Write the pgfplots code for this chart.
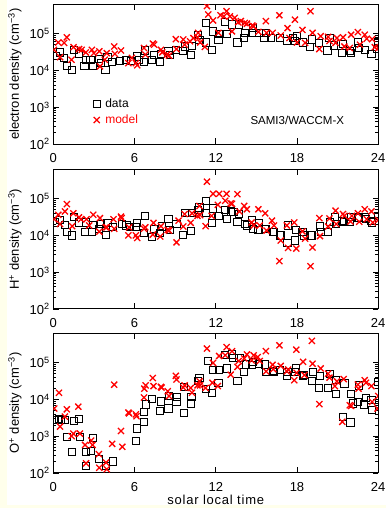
\documentclass[border=0pt]{standalone}
\usepackage{fontspec}
\setmainfont{Liberation Sans}
\newfontfamily\lsfont[LetterSpace=6]{Liberation Sans}
\usepackage{pgfplots}
\pgfplotsset{compat=1.18}
\usetikzlibrary{backgrounds}
\definecolor{mred}{RGB}{255,0,0}
\definecolor{cream}{RGB}{255,255,235}
\begin{document}
\begin{tikzpicture}
% ---------------- Panel 1: electron density
\begin{axis}[
    at={(53.3pt,364pt)}, anchor=south west,
    scale only axis, width=325pt, height=139.5pt,
    xmin=0, xmax=24, ymode=log, ymin=100, ymax=6.2e5,
    xtick={0,6,12,18,24}, xticklabels={0,6,12,18,24},
    ytick={100,1000,10000,100000},
    yticklabels={10\textsuperscript{2},10\textsuperscript{3},10\textsuperscript{4},10\textsuperscript{5}},
    minor x tick num=0,
    tick align=inside, major tick length=5.5pt, minor tick length=3pt,
    xtick pos=both, ytick pos=both,
    tick style={line width=0.8pt, black},
    axis line style={line width=0.9pt, black},
    tick label style={font=\fontsize{13}{15}\selectfont},
    xticklabel style={yshift=-5.5pt},
    clip marker paths=true,
    ylabel style={at={(axis description cs:-0.118,0.5)}, anchor=center, font=\fontsize{13}{15}\selectfont},
    ylabel={electron density (cm\textsuperscript{−3})},
    legend cell align=left,
    legend style={draw=none, fill=none, at={(axis description cs:0.122,0.34)}, anchor=north west,
      font=\fontsize{12}{14}\selectfont, row sep=2pt, column sep=3pt, inner sep=0pt},
]
\addplot[only marks, mark=square, mark size=3.6pt, mark options={line width=0.9pt, draw=black}] table {
0.2 2.51e4
0.5 3.09e4
0.8 2.14e4
1.0 1.29e4
1.4 1.05e4
1.5 3.55e4
1.9 2.82e4
2.3 1.29e4
2.4 1.95e4
2.75 1.95e4
2.9 1.29e4
3.35 2.09e4
3.5 1.58e4
3.85 1.05e4
4.0 2.29e4
4.35 1.66e4
4.95 1.78e4
5.35 1.95e4
5.75 1.82e4
6.15 2.40e4
6.3 1.95e4
6.7 1.66e4
6.75 3.47e4
7.3 1.95e4
7.45 2.69e4
7.9 1.70e4
7.95 2.82e4
8.5 3.31e4
8.6 2.69e4
9.05 3.55e4
9.6 3.31e4
9.7 4.47e4
10.15 2.57e4
10.25 4.68e4
10.7 9.33e4
10.8 6.61e4
11.25 5.75e4
11.3 1.95e5
11.7 3.63e4
11.8 1.15e5
12.2 6.61e4
12.25 9.77e4
12.7 2.09e5
12.8 9.77e4
13.2 1.78e5
13.6 5.75e4
13.7 1.78e5
14.1 7.59e4
14.2 1.05e5
14.65 1.05e5
14.75 1.41e5
15.2 1.05e5
15.6 7.59e4
15.7 1.05e5
16.1 7.59e4
16.75 7.59e4
17.25 6.17e4
17.7 7.59e4
17.85 6.31e4
18.0 8.51e4
18.45 5.75e4
18.95 4.37e4
19.1 6.92e4
19.65 5.62e4
20.25 3.47e4
20.4 7.59e4
20.75 4.79e4
21.35 2.95e4
21.4 5.13e4
21.9 3.31e4
22.0 2.95e4
22.5 5.75e4
22.6 4.07e4
23.0 3.63e4
23.5 2.82e4
23.9 3.80e4
24.0 5.75e4
};
\addlegendentry{data}
\addplot[only marks, mark=x, mark size=4.3pt, mark options={line width=1.3pt, draw=mred}] table {
0.05 3.63e4
0.37 5.75e4
0.5 2.29e4
0.8 5.62e4
1.0 7.94e4
1.35 1.95e4
1.5 4.27e4
1.9 3.80e4
2.1 3.63e4
2.4 3.09e4
2.85 3.63e4
3.0 2.95e4
3.4 3.31e4
3.45 1.29e4
3.8 1.95e4
3.95 2.95e4
4.5 4.47e4
4.55 2.82e4
5.0 3.47e4
5.55 1.58e4
5.8 2.19e4
6.1 1.58e4
6.2 1.38e4
6.7 4.07e4
6.8 2.69e4
7.35 5.37e4
7.45 5.01e4
7.95 3.63e4
8.05 3.09e4
8.4 2.69e4
8.55 2.51e4
9.05 7.08e4
9.1 3.80e4
9.6 6.92e4
9.7 5.01e4
10.1 6.17e4
10.35 7.59e4
10.65 7.94e4
10.7 1.05e5
10.85 5.75e4
11.2 4.37e4
11.35 5.62e5
11.45 3.31e5
11.8 2.29e5
12.2 1.05e5
12.35 3.16e5
12.6 2.95e5
12.8 4.07e5
13.05 2.95e5
13.2 1.15e5
13.4 2.69e5
13.65 2.04e5
13.85 2.19e5
14.15 1.95e5
14.3 1.86e5
14.7 1.66e5
14.8 1.58e5
15.15 1.12e5
15.7 2.19e5
15.75 1.05e5
16.2 1.05e5
16.7 3.16e5
16.8 8.91e4
17.3 1.41e5
17.45 7.59e4
17.85 2.40e5
18.0 5.75e4
18.4 1.26e5
18.6 5.62e4
19.0 4.07e5
19.15 1.05e5
19.65 3.80e4
19.75 8.51e4
20.3 8.13e4
20.4 6.31e4
20.85 5.62e4
20.95 7.59e4
21.4 7.94e4
21.5 4.47e4
21.9 4.07e4
22.0 9.33e4
22.5 1.10e5
22.65 5.01e4
23.0 9.33e4
23.15 7.24e4
23.55 7.08e4
23.75 4.27e4
24.0 4.07e4
};
\addlegendentry{\textcolor{mred}{model}}
\node[font=\fontsize{11.5}{13}\selectfont] at (axis description cs:0.751,0.172) {SAMI3/WACCM-X};
\end{axis}
% ---------------- Panel 2: H+ density
\begin{axis}[
    at={(53.3pt,199pt)}, anchor=south west,
    scale only axis, width=325pt, height=139.5pt,
    xmin=0, xmax=24, ymode=log, ymin=100, ymax=6.2e5,
    xtick={0,6,12,18,24}, xticklabels={0,6,12,18,24},
    ytick={100,1000,10000,100000},
    yticklabels={10\textsuperscript{2},10\textsuperscript{3},10\textsuperscript{4},10\textsuperscript{5}},
    minor x tick num=0,
    tick align=inside, major tick length=5.5pt, minor tick length=3pt,
    xtick pos=both, ytick pos=both,
    tick style={line width=0.8pt, black},
    axis line style={line width=0.9pt, black},
    tick label style={font=\fontsize{13}{15}\selectfont},
    xticklabel style={yshift=-5.5pt},
    clip marker paths=true,
    ylabel style={at={(axis description cs:-0.118,0.5)}, anchor=center, font=\fontsize{13}{15}\selectfont},
    ylabel={H\textsuperscript{+} density (cm\textsuperscript{−3})},
]
\addplot[only marks, mark=square, mark size=3.6pt, mark options={line width=0.9pt, draw=black}] table {
0.1 2.24e4
0.5 2.63e4
0.86 1.91e4
1.0 1.23e4
1.4 1.0e4
1.53 3.24e4
1.9 2.24e4
2.35 1.23e4
2.4 2.24e4
2.85 1.23e4
2.9 1.91e4
3.37 1.51e4
3.5 2.04e4
3.87 1.05e4
4.0 2.14e4
4.4 1.66e4
5.05 2.04e4
5.4 1.86e4
5.65 1.66e4
6.15 2.14e4
6.1 1.66e4
6.7 1.15e4
6.75 3.31e4
7.3 8.91e3
7.45 1.51e4
7.9 1.15e4
8.0 1.74e4
8.5 2.75e4
8.6 1.41e4
9.1 2.04e4
9.6 1.05e4
9.7 3.98e4
10.15 1.29e4
10.25 3.98e4
10.7 4.90e4
10.8 5.75e4
11.25 8.71e4
11.3 3.98e4
11.7 2.14e4
11.8 5.37e4
12.2 3.39e4
12.25 3.31e4
12.7 4.90e4
12.8 2.75e4
13.15 4.47e4
13.3 4.37e4
13.6 2.34e4
13.7 3.80e4
14.15 2.04e4
14.3 1.86e4
14.65 2.63e4
14.75 1.51e4
15.15 1.41e4
15.2 2.19e4
15.65 1.51e4
15.7 1.51e4
16.2 1.23e4
16.3 1.23e4
16.75 1.0e4
16.8 1.0e4
17.3 6.31e3
17.35 1.86e4
17.85 7.24e3
17.9 1.41e4
18.4 1.23e4
18.5 1.0e4
19.0 1.0e4
19.1 1.0e4
19.7 1.74e4
19.75 1.26e4
20.3 1.26e4
20.45 2.34e4
20.8 3.24e4
20.85 2.04e4
21.35 2.51e4
21.45 2.34e4
21.9 2.34e4
22.0 3.24e4
22.5 2.95e4
22.55 3.09e4
23.0 3.09e4
23.1 2.75e4
23.5 2.51e4
23.55 2.24e4
24.0 3.39e4
};
\addplot[only marks, mark=x, mark size=4.3pt, mark options={line width=1.3pt, draw=mred}] table {
0.07 2.75e4
0.37 3.63e4
0.5 2.04e4
0.86 4.47e4
1.0 7.08e4
1.4 1.78e4
1.48 3.98e4
1.9 3.09e4
2.05 2.75e4
2.45 2.75e4
2.65 1.86e4
2.95 3.63e4
3.4 1.26e4
3.45 2.95e4
3.87 1.66e4
3.95 1.66e4
4.45 2.75e4
4.5 1.51e4
5.0 3.24e4
5.05 2.95e4
5.55 1.0e4
5.6 1.66e4
6.1 1.0e4
6.2 8.51e3
6.7 1.51e4
6.8 1.66e4
7.4 2.19e4
7.35 1.05e4
7.9 9.33e3
7.95 1.78e4
8.45 1.41e4
8.55 1.35e4
9.1 6.46e3
9.25 2.51e4
9.6 1.74e4
9.7 3.80e4
10.15 2.19e4
10.25 3.98e4
10.65 3.39e4
10.8 6.31e4
10.85 3.55e4
11.25 1.78e4
11.35 2.88e5
11.7 3.39e4
11.8 1.35e5
12.15 6.76e4
12.25 1.35e5
12.7 8.71e4
12.8 1.35e5
13.1 7.41e4
13.2 7.24e4
13.6 1.32e5
13.75 4.47e4
14.1 6.31e4
14.3 5.13e4
14.65 2.24e4
14.8 1.86e4
15.15 5.13e4
15.25 1.86e4
15.65 3.98e4
15.75 1.35e4
16.15 2.51e4
16.3 1.86e4
16.7 2.0e3
16.8 7.24e3
17.25 1.86e4
17.35 4.57e3
17.8 2.24e4
17.95 4.37e3
18.4 1.29e4
18.6 8.13e3
19.0 1.45e3
19.15 4.68e3
19.65 2.95e4
19.7 9.55e3
20.3 1.74e4
20.4 2.88e4
20.85 4.68e4
20.9 2.04e4
21.4 3.80e4
21.5 3.39e4
21.95 2.40e4
22.05 3.39e4
22.5 3.98e4
22.6 2.34e4
23.0 5.13e4
23.15 2.75e4
23.5 4.47e4
23.6 2.24e4
24.0 2.63e4
};
\end{axis}
% ---------------- Panel 3: O+ density
\begin{axis}[
    at={(53.3pt,35pt)}, anchor=south west,
    scale only axis, width=325pt, height=139.5pt,
    xmin=0, xmax=24, ymode=log, ymin=100, ymax=6.2e5,
    xtick={0,6,12,18,24}, xticklabels={0,6,12,18,24},
    ytick={100,1000,10000,100000},
    yticklabels={10\textsuperscript{2},10\textsuperscript{3},10\textsuperscript{4},10\textsuperscript{5}},
    minor x tick num=0,
    tick align=inside, major tick length=5.5pt, minor tick length=3pt,
    xtick pos=both, ytick pos=both,
    tick style={line width=0.8pt, black},
    axis line style={line width=0.9pt, black},
    tick label style={font=\fontsize{13}{15}\selectfont},
    xticklabel style={yshift=-5.5pt},
    clip marker paths=true,
    ylabel style={at={(axis description cs:-0.118,0.5)}, anchor=center, font=\fontsize{13}{15}\selectfont},
    ylabel={O\textsuperscript{+} density (cm\textsuperscript{−3})},
    xlabel={solar local time},
    xlabel style={at={(axis description cs:0.5,0)}, anchor=center, yshift=-27pt, font=\lsfont\fontsize{13}{15}\selectfont},
]
\addplot[only marks, mark=square, mark size=3.6pt, mark options={line width=0.9pt, draw=black}] table {
0.1 2.75e3
0.4 2.88e3
0.55 2.82e3
0.85 2.75e3
1.0 9.33e2
1.4 3.80e2
1.53 2.63e3
1.9 2.88e3
1.97 9.33e2
2.4 3.80e2
2.42 1.58e2
2.8 3.98e2
2.95 9.12e2
3.4 2.40e2
3.9 1.58e2
4.43 2.04e2
6.08 7.41e2
6.15 1.62e3
6.7 4.47e3
6.72 2.45e3
6.82 7.24e3
7.3 1.0e4
7.9 4.79e3
7.93 8.71e3
8.5 5.62e3
8.55 1.26e4
9.1 8.51e3
9.15 1.17e4
9.68 4.37e3
9.65 2.19e4
10.15 7.76e3
10.2 1.17e4
10.7 3.16e4
10.8 3.89e4
11.25 1.91e4
11.4 1.10e5
11.7 1.51e4
11.8 6.17e4
12.25 6.17e4
12.2 2.82e4
12.7 1.58e5
12.82 6.92e4
13.2 1.66e5
13.3 1.35e5
13.6 3.09e4
13.75 1.35e5
14.1 5.62e4
14.25 8.91e4
14.75 1.05e5
14.7 8.51e4
15.2 9.33e4
15.7 5.62e4
15.65 8.91e4
16.2 5.89e4
16.3 5.62e4
16.75 6.17e4
17.25 4.27e4
17.3 5.62e4
17.85 5.62e4
17.9 6.92e4
18.45 4.37e4
18.5 4.57e4
19.1 3.09e4
19.15 5.62e4
19.65 2.04e4
19.7 4.27e4
20.3 2.04e4
20.45 5.01e4
20.85 1.38e4
20.9 3.31e4
21.4 3.39e3
21.5 2.69e4
21.95 2.34e3
22.0 1.38e4
22.15 7.76e3
22.5 8.51e3
22.55 2.40e4
22.95 7.24e3
23.1 1.10e4
23.5 9.55e3
23.55 5.13e3
24.0 3.02e4
};
\addplot[only marks, mark=x, mark size=4.3pt, mark options={line width=1.3pt, draw=mred}] table {
0.07 5.62e3
0.42 1.51e4
0.5 1.82e3
0.86 3.39e3
1.0 5.37e3
1.35 1.0e3
1.48 1.17e3
1.85 6.31e3
1.97 1.17e3
2.35 5.75e2
2.42 1.82e2
2.8 7.59e2
2.9 5.75e2
3.37 3.24e2
3.4 1.38e2
3.9 1.91e2
3.95 1.26e2
4.35 6.17e2
4.5 2.51e4
5.0 1.38e3
5.1 5.13e2
5.55 4.37e3
5.6 4.17e3
6.1 3.89e3
6.15 3.47e3
6.7 1.12e4
6.72 1.95e4
6.82 2.40e4
7.35 3.80e4
7.4 2.29e4
7.95 2.19e4
8.0 2.09e4
8.45 1.66e4
8.55 1.23e4
9.05 4.37e4
9.1 3.47e4
9.6 2.09e4
9.7 2.40e4
10.15 2.04e4
10.25 1.51e4
10.65 2.40e4
10.8 3.09e4
10.85 2.40e4
11.25 2.04e4
11.35 2.40e5
11.75 2.82e4
11.8 9.77e4
12.15 2.29e4
12.25 1.51e5
12.7 1.58e5
12.8 2.63e5
13.1 4.68e4
13.2 2.04e5
13.6 7.59e4
13.7 1.10e5
14.1 1.29e5
14.3 1.66e5
14.65 1.15e5
14.8 1.58e5
15.1 1.41e5
15.25 1.10e5
15.7 2.04e5
15.72 5.75e4
16.2 8.71e4
16.25 6.61e4
16.7 2.95e5
16.8 8.13e4
17.25 5.75e4
17.35 6.46e4
17.8 3.31e4
17.95 2.24e5
17.97 5.25e4
18.45 1.05e5
18.55 4.57e4
19.1 3.89e5
19.15 9.33e4
19.65 7.41e3
19.75 6.92e4
20.3 5.01e4
20.4 3.89e4
20.8 2.29e4
20.95 3.09e4
21.35 2.45e3
21.45 3.55e4
21.9 6.92e3
22.0 6.61e3
22.5 2.51e4
22.55 1.95e4
23.0 3.31e4
23.1 2.82e4
23.5 2.29e4
23.55 8.51e3
24.0 1.23e4
23.95 5.62e3
};
\end{axis}
\begin{scope}[on background layer]
\fill[cream] (0,0) rectangle (386pt,508pt);
\fill[white] (6.7pt,3pt) rectangle (386pt,508pt);
\end{scope}
\path (0,0) rectangle (386pt,508pt);
\end{tikzpicture}
\end{document}
